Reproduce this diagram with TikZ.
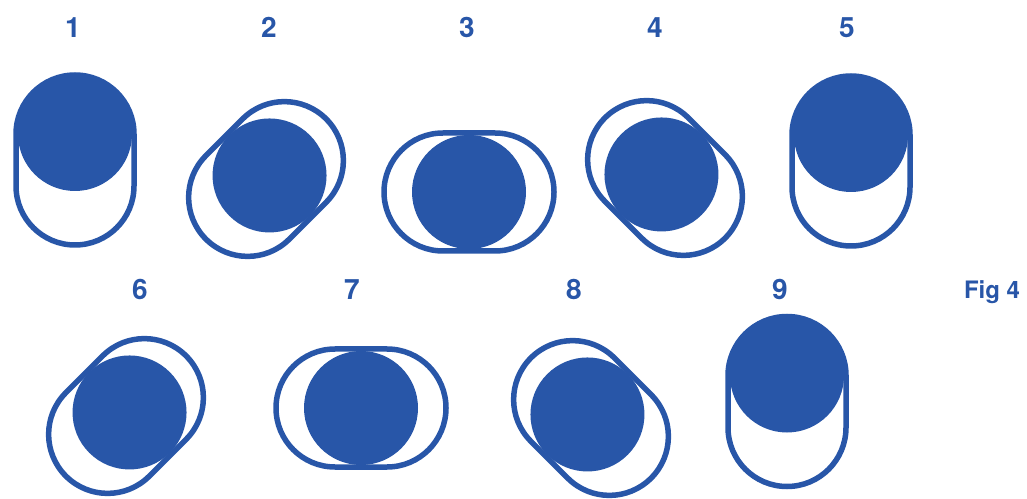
\documentclass[tikz,border=0pt]{standalone}
\usepackage{fontspec}
\setmainfont{TeX Gyre Heros}
\definecolor{figblue}{RGB}{40,86,168}
\tikzset{
  pics/capsule/.style={code={
    \draw[line width=5.5pt, figblue]
      (-26,-59) -- (26,-59) arc[start angle=-90,end angle=90,radius=59]
      -- (-26,59) arc[start angle=90,end angle=270,radius=59] -- cycle;
    \fill[figblue] (#1,0) circle[radius=57];
  }},
  numlabel/.style={text=figblue, anchor=base, inner sep=0pt,
    font=\fontsize{28}{30}\selectfont\bfseries},
  figlabel/.style={text=figblue, anchor=base, inner sep=0pt,
    font=\fontsize{24}{26}\selectfont\bfseries}
}
\begin{document}
\begin{tikzpicture}[x=1pt,y=1pt]
\useasboundingbox (0,0) rectangle (1027,498);
% row 1
\pic[rotate=90]  (s1) at (75,338)  {capsule=26};
\pic[rotate=45]  (s2) at (266,319) {capsule=5};
\pic[rotate=0]   (s3) at (469,306) {capsule=0};
\pic[rotate=135] (s4) at (665,320) {capsule=5};
\pic[rotate=90]  (s5) at (851,337) {capsule=26};
% row 2
\pic[rotate=45]  (s6) at (126,82)  {capsule=5};
\pic[rotate=0]   (s7) at (361,90)  {capsule=0};
\pic[rotate=135] (s8) at (591,80)  {capsule=5};
\pic[rotate=90]  (s9) at (787,96.5) {capsule=26};
% labels
\node[numlabel] (l1) at (73,460)  {1};
\node[numlabel] (l2) at (269,460) {2};
\node[numlabel] (l3) at (467,460) {3};
\node[numlabel] (l4) at (655,460) {4};
\node[numlabel] (l5) at (847,460) {5};
\node[numlabel] (l6) at (140,198) {6};
\node[numlabel] (l7) at (352,198) {7};
\node[numlabel] (l8) at (574,198) {8};
\node[numlabel] (l9) at (780,198) {9};
\node[figlabel] (fig) at (992,199) {Fig 4};
\end{tikzpicture}
\end{document}
